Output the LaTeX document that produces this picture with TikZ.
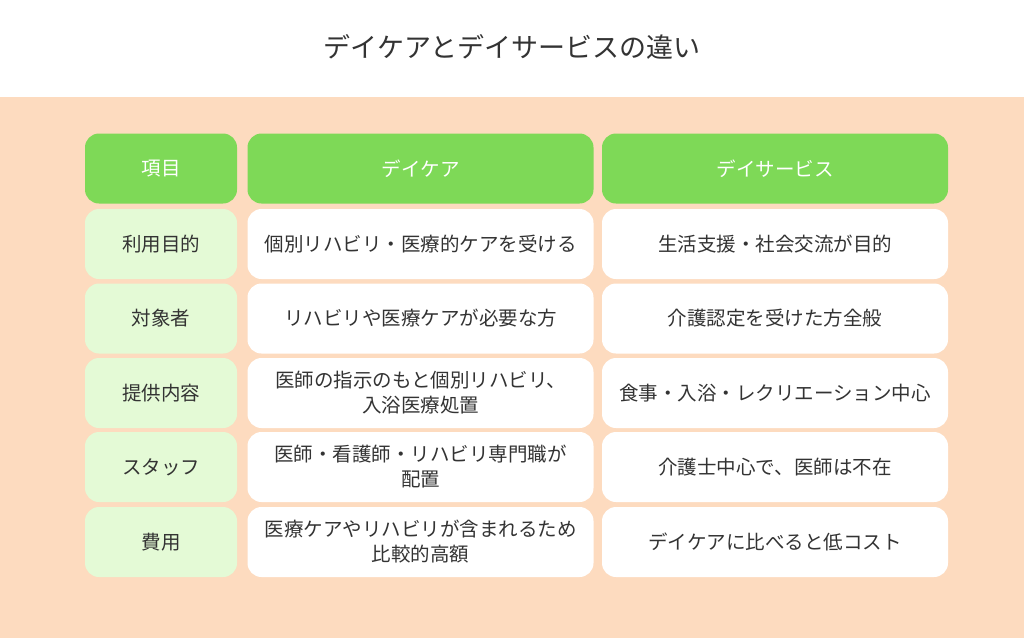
\documentclass[tikz,border=0pt]{standalone}
\usepackage{fontspec}
\setmainfont{Noto Sans CJK JP}
\definecolor{peach}{HTML}{FDDBBF}
\definecolor{headgreen}{HTML}{7ED957}
\definecolor{palegreen}{HTML}{E4FAD6}
\definecolor{ink}{HTML}{333333}
\tikzset{
	cell/.style = {rounded corners=14pt, minimum height=70pt, align=center, inner sep=0pt, font=\fontsize{19.5}{25}\selectfont, text=ink},
	headcell/.style = {cell, fill=headgreen, text=white},
	itemcell/.style = {cell, fill=palegreen, minimum width=152pt},
	infocell/.style = {cell, fill=white, minimum width=346pt, text width=342pt}
}
\begin{document}
\begin{tikzpicture}[x=1pt, y=-1pt]
	\fill[white] (0,0) rectangle (1024,97);
	\fill[peach] (0,97) rectangle (1024,638);
	\useasboundingbox (0,0) rectangle (1024,638);
	\node[font=\fontsize{27}{32}\selectfont, text=ink] (title) at (512,47) {デイケアとデイサービスの違い};
	% header
	\node[headcell, minimum width=152pt] (h1) at (161,168.5) {項目};
	\node[headcell, minimum width=346pt] (h2) at (420.5,168.5) {デイケア};
	\node[headcell, minimum width=346pt] (h3) at (775,168.5) {デイサービス};
	% rows
	\node[itemcell] (r1) at (161,244) {利用目的};
	\node[infocell] (a1) at (420.5,244) {個別リハビリ・医療的ケアを受ける};
	\node[infocell] (b1) at (775,244) {生活支援・社会交流が目的};
	\node[itemcell] (r2) at (161,318.5) {対象者};
	\node[infocell] (a2) at (420.5,318.5) {リハビリや医療ケアが必要な方};
	\node[infocell] (b2) at (775,318.5) {介護認定を受けた方全般};
	\node[itemcell] (r3) at (161,393) {提供内容};
	\node[infocell] (a3) at (420.5,393) {医師の指示のもと個別リハビリ、\\入浴医療処置};
	\node[infocell] (b3) at (775,393) {食事・入浴・レクリエーション中心};
	\node[itemcell] (r4) at (161,467) {スタッフ};
	\node[infocell] (a4) at (420.5,467) {医師・看護師・リハビリ専門職が\\配置};
	\node[infocell] (b4) at (775,467) {介護士中心で、医師は不在};
	\node[itemcell] (r5) at (161,542) {費用};
	\node[infocell] (a5) at (420.5,542) {医療ケアやリハビリが含まれるため\\比較的高額};
	\node[infocell] (b5) at (775,542) {デイケアに比べると低コスト};
\end{tikzpicture}
\end{document}
